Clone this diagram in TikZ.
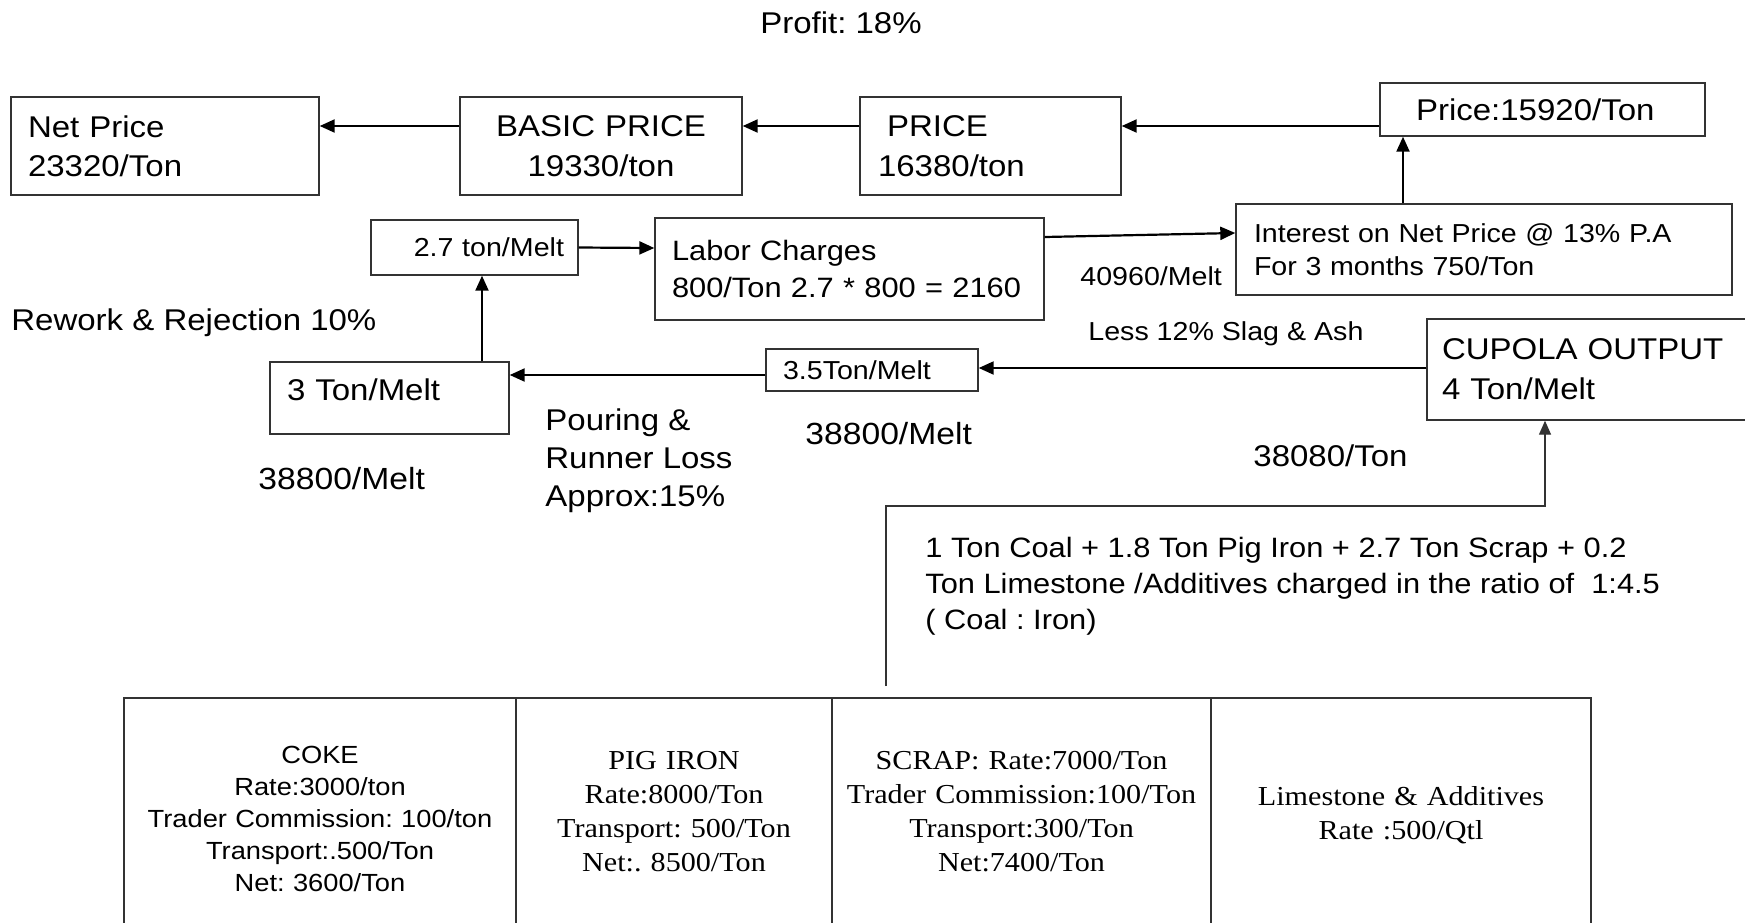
\documentclass[tikz,border=0pt]{standalone}
\usepackage{fontspec}
\setmainfont{Liberation Sans}[FakeStretch=1.1]
\newfontfamily\seriffam{Liberation Serif}[FakeStretch=1.1]
\usetikzlibrary{arrows.meta}
\newcommand\fsz[2]{\fontsize{#1}{#2}\selectfont}
\frenchspacing
\begin{document}
\frenchspacing
\begin{tikzpicture}[x=0.5pt,y=-0.5pt,
 box/.style={draw=black!80, line width=0.7pt, inner ysep=0pt, align=left},
 arr/.style={line width=1.1pt, -{Triangle[length=7.5pt,width=6.5pt]}},
 conn/.style={draw=black!80, line width=0.7pt, -{Triangle[length=7pt,width=6pt]}},
 lbl/.style={inner sep=0pt, anchor=base west},
 blk/.style={inner sep=0pt, anchor=west, align=left},
 cell/.style={draw=black!80, line width=0.7pt, align=center, inner sep=0pt, minimum height=114pt},
 tsans/.style={font=\fsz{12.4pt}{16pt}},
 tserif/.style={font=\seriffam\fsz{13.7pt}{17pt}}
]
\useasboundingbox (0,0) rectangle (1745,922);
\clip (0,0) rectangle (1745,922);
\fill[white] (0,0) rectangle (1745,922);

% boxes
\node[box, text width=137pt, inner xsep=8.5pt, minimum height=49pt, font=\fsz{15pt}{19.5pt}] (net) at (165,146) {Net Price\\23320/Ton};
\node[box, align=center, text width=124pt, inner xsep=8.5pt, minimum height=49pt, font=\fsz{15pt}{20pt}] (basic) at (601,146) {BASIC PRICE\\19330/ton};
\node[box, text width=112.5pt, inner xsep=9pt, minimum height=49pt, font=\fsz{15pt}{20pt}] (price) at (990.5,146) {\hspace*{4.5pt}PRICE\\16380/ton};
\node[box, text width=126.5pt, inner xsep=18pt, minimum height=26.5pt, font=\fsz{15pt}{18pt}] (p159) at (1542.5,109.5) {Price:15920/Ton};
\node[box, text width=230pt, inner xsep=9pt, minimum height=45.5pt, font=\fsz{13pt}{16.5pt}] (int) at (1484,249.5) {Interest on Net Price @ 13\% P.A\\For 3 months 750/Ton};
\node[box, text width=177.5pt, inner xsep=8.5pt, minimum height=51pt, font=\fsz{14pt}{18.5pt}] (labor) at (849.5,269) {Labor Charges\\800/Ton 2.7 * 800 = 2160};
\node[box, align=right, text width=89.5pt, inner xsep=7pt, minimum height=27.5pt, font=\fsz{13pt}{16pt}] (t27) at (474.5,247.5) {2.7 ton/Melt};
\node[box, text width=102.5pt, inner xsep=8.5pt, minimum height=36pt, font=\fsz{15pt}{18pt}] (t3) at (389.5,398) {3 Ton/Melt\rule[-8.7pt]{0pt}{8.7pt}};
\node[box, text width=89pt, inner xsep=8.5pt, minimum height=21pt, font=\fsz{13pt}{16pt}] (t35) at (872,370) {3.5Ton/Melt};
\node[box, text width=154pt, inner xsep=7.5pt, minimum height=50.5pt, font=\fsz{15pt}{20pt}] (cup) at (1596,369.5) {CUPOLA OUTPUT\\4 Ton/Melt};

% free labels
\node[inner sep=0pt, anchor=base, font=\fsz{15pt}{18pt}] (profit) at (841,33) {Profit: 18\%};
\node[lbl, font=\fsz{15pt}{18pt}] (rework) at (11,330) {Rework \& Rejection 10\%};
\node[lbl, font=\fsz{15.3pt}{18pt}] (m1) at (258,489) {38800/Melt};
\node[blk, font=\fsz{15pt}{19pt}] (pour) at (545,461) {Pouring \&\\Runner Loss\\Approx:15\%};
\node[lbl, font=\fsz{15.3pt}{18pt}] (m2) at (805,444) {38800/Melt};
\node[lbl, font=\fsz{13pt}{16pt}] (m40) at (1080,285) {40960/Melt};
\node[lbl, font=\fsz{13pt}{16pt}] (slag) at (1088,340) {Less 12\% Slag \& Ash};
\node[lbl, font=\fsz{15pt}{18pt}] (t38) at (1253,466) {38080/Ton};
\node[blk, font=\fsz{14pt}{18pt}] (mix) at (925,586) {1 Ton Coal + 1.8 Ton Pig Iron + 2.7 Ton Scrap + 0.2\\Ton Limestone /Additives charged in the ratio of~~1:4.5\\( Coal : Iron)};

% table cells
\node[cell, tsans, text width=196pt] (coke) at (320,812) {\rule{0pt}{15.9pt}COKE\\Rate:3000/ton\\Trader Commission: 100/ton\\Transport:.500/Ton\\Net: 3600/Ton};
\node[cell, tserif, text width=158pt] (pig) at (674,812) {PIG IRON\\Rate:8000/Ton\\Transport: 500/Ton\\Net:. 8500/Ton};
\node[cell, tserif, text width=189.5pt] (scrap) at (1021.5,812) {SCRAP: Rate:7000/Ton\\Trader Commission:100/Ton\\Transport:300/Ton\\Net:7400/Ton};
\node[cell, tserif, text width=190pt] (lime) at (1401,812) {\rule{0pt}{12.5pt}Limestone \& Additives\\Rate :500/Qtl};

% connectors
\draw[arr] ([yshift=-8.25pt]p159.west) -- ([yshift=-8.25pt]p159.west -| price.east);
\draw[arr] ([yshift=10pt]price.west) -- ([yshift=10pt]basic.east);
\draw[arr] ([yshift=10pt]basic.west) -- ([yshift=10pt]net.east);
\draw[arr] ([xshift=-40.5pt]int.north) -- ([xshift=-40.5pt]int.north |- p159.south);
\draw[arr] ([yshift=16pt]labor.east) -- ([yshift=8.25pt]int.west);
\draw[arr] (t27.east) -- ([yshift=10.5pt]labor.west);
\draw[arr] ([xshift=46.25pt]t3.north) -- ([xshift=46.25pt]t3.north |- t27.south);
\draw[arr] ([yshift=-2.5pt]t35.west) -- ([yshift=-2.5pt]t35.west -| t3.east);
\draw[arr] ([yshift=0.75pt]cup.west) -- ([yshift=0.75pt]cup.west -| t35.east);
\coordinate (src) at (886,686);
\coordinate (bend) at (1545,506);
\draw[conn] (src) |- (bend) -- (bend |- cup.south);
\end{tikzpicture}
\end{document}
